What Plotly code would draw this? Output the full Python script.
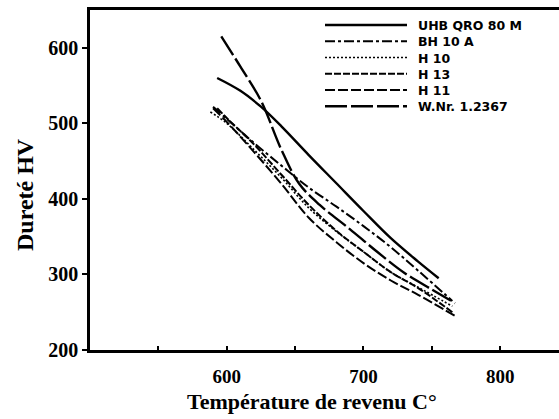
import plotly.graph_objects as go

# Data (Température de revenu °C vs Dureté HV)
names = ["UHB QRO 80 M", "BH 10 A", "H 10", "H 13", "H 11", "W.Nr. 1.2367"]

t_uhb = [593, 610, 625, 640, 660, 680, 700, 720, 740, 755]
h_uhb = [560, 543, 522, 496, 458, 421, 384, 348, 317, 295]

t_bh10a = [590, 600, 620, 640, 660, 680, 700, 720, 740, 765]
h_bh10a = [522, 506, 474, 444, 415, 390, 364, 336, 305, 265]

t_h10 = [588, 600, 620, 640, 660, 680, 700, 720, 740, 765]
h_h10 = [515, 500, 465, 428, 388, 357, 330, 303, 283, 258]

t_h13 = [593, 600, 620, 640, 660, 680, 700, 720, 740, 765]
h_h13 = [520, 507, 472, 432, 392, 358, 330, 303, 282, 250]

t_h11 = [590, 600, 620, 640, 660, 680, 700, 720, 740, 767]
h_h11 = [520, 502, 462, 420, 375, 343, 315, 292, 273, 245]

t_wnr = [596, 610, 625, 640, 653, 668, 690, 710, 730, 750, 767]
h_wnr = [615, 575, 530, 465, 420, 392, 360, 330, 302, 280, 262]

x_tickvals = [550, 600, 650, 700, 750, 800]
x_ticktext = ["", "600", "", "700", "", "800"]
y_tickvals = [200, 300, 400, 500, 600]

dashes = ["solid", "10px,3px,3px,3px", "2px,2px", "7px,2px", "10px,3px", "22px,4px"]
widths = [2.4, 2.0, 1.6, 2.0, 2.0, 2.4]
curves = [(t_uhb, h_uhb), (t_bh10a, h_bh10a), (t_h10, h_h10),
          (t_h13, h_h13), (t_h11, h_h11), (t_wnr, h_wnr)]

fig = go.Figure()
for name, (t, h), dash, w in zip(names, curves, dashes, widths):
    fig.add_trace(go.Scatter(
        x=t, y=h, name=name, mode="lines", showlegend=False,
        line=dict(color="black", width=w, dash=dash, shape="spline", smoothing=1.0),
    ))

W, H = 559, 419
ML, MR, MT, MB = 90, 0, 10, 69
PW, PH = W - ML - MR, H - MT - MB


def px_x(x):
    return (x - ML) / PW


def px_y(y):
    return (H - MB - y) / PH


# Legend: line samples + one multi-line label block, top-right of the frame
LEG_FONT = 12.5
line_h = LEG_FONT * 1.3
first_row = 25
rows = [first_row + i * line_h for i in range(len(names))]
shapes = []
for dash, w, ry in zip(dashes, widths, rows):
    shapes.append(dict(type="line", xref="paper", yref="paper",
                       x0=px_x(325), x1=px_x(407), y0=px_y(ry), y1=px_y(ry),
                       line=dict(color="black", width=w, dash=dash)))

serif = "Liberation Serif"
annotations = [
    dict(text="<br>".join(names), xref="paper", yref="paper",
         x=px_x(417), y=px_y((rows[0] + rows[-1]) / 2), xanchor="left",
         yanchor="middle", align="left", showarrow=False, borderpad=0,
         font=dict(family="DejaVu Sans", size=LEG_FONT, color="black", weight="bold")),
    dict(text="<b>Température de revenu C°</b>", xref="paper", yref="paper",
         x=px_x(312), y=px_y(402), xanchor="center", yanchor="middle", showarrow=False,
         font=dict(family=serif, size=22, color="black")),
    dict(text="<b>Dureté HV</b>", xref="paper", yref="paper",
         x=px_x(25), y=px_y(195), xanchor="center", yanchor="middle", showarrow=False,
         textangle=-90, font=dict(family=serif, size=24, color="black")),
]

fig.update_layout(
    width=W, height=H,
    margin=dict(l=ML, r=MR, t=MT, b=MB, autoexpand=False),
    paper_bgcolor="white", plot_bgcolor="white",
    showlegend=False,
    xaxis=dict(
        range=[500, 843], showgrid=False, zeroline=False, automargin=False,
        showline=True, linecolor="black", linewidth=2.5, mirror=True,
        tickvals=x_tickvals, ticktext=x_ticktext,
        ticks="inside", ticklen=4, tickwidth=1.5, tickcolor="black",
        ticklabelstandoff=7,
        tickfont=dict(family=serif, size=19, color="black", weight="bold"),
    ),
    yaxis=dict(
        range=[200, 650], showgrid=False, zeroline=False, automargin=False,
        showline=True, linecolor="black", linewidth=2.5, mirror=False,
        tickvals=y_tickvals,
        ticks="outside", ticklen=5, tickwidth=1.5, tickcolor="black",
        tickfont=dict(family=serif, size=20, color="black", weight="bold"),
    ),
    shapes=shapes,
    annotations=annotations,
)

fig.write_html(
    "out.html",
    config={"displayModeBar": False},
    post_script="document.body.style.margin='0';document.body.style.overflow='hidden';",
)
